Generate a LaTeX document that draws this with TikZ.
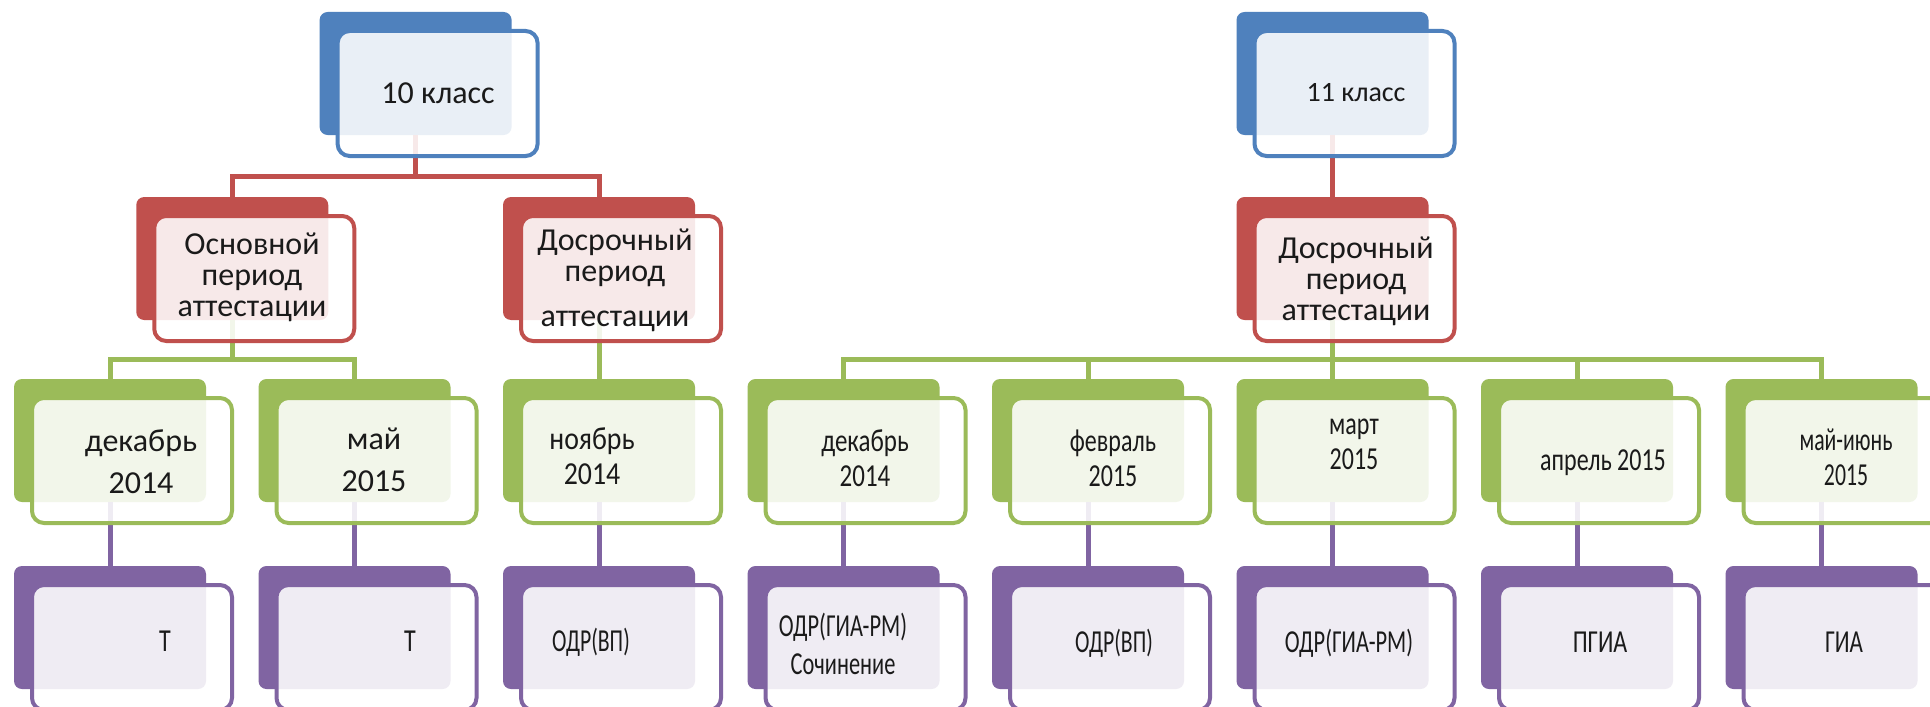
\documentclass[tikz,border=0pt]{standalone}
\usepackage{fontspec}
\setmainfont{Carlito}
\usetikzlibrary{calc}
\definecolor{cblue}{HTML}{4F81BD}
\definecolor{cred}{HTML}{C0504D}
\definecolor{cgreen}{HTML}{9BBB59}
\definecolor{cpurple}{HTML}{8064A2}
\definecolor{ctext}{HTML}{1A1A1A}
\newcommand\condtxt[2]{\scalebox{#1}[1]{\begin{tabular}{@{}c@{}}#2\end{tabular}}}
\begin{document}
\begin{tikzpicture}[x=0.5pt,y=-0.5pt,
  backbox/.style={draw=none, fill=#1, rounded corners=4pt, minimum width=96pt, minimum height=61.5pt, anchor=north west, inner sep=0pt, outer sep=0pt},
  frontbox/.style={draw=#1, line width=2pt, fill=white, fill opacity=0.88, rounded corners=6pt, minimum width=100pt, minimum height=62.5pt, anchor=north west, inner sep=0pt, outer sep=0pt},
  conn/.style={draw=#1, line width=2.5pt},
  lbl/.style={font=\fontsize{16}{15.5}\selectfont, align=center, text=ctext, inner sep=0pt},
  lblthree/.style={font=\fontsize{16}{17.5}\selectfont, align=center, text=ctext, inner sep=0pt},
]
\useasboundingbox (0,0) rectangle (1930,706);
\clip (0,0) rectangle (1930,706);
\fill[white] (0,0) rectangle (1930,706);

% back boxes
\foreach \n/\cx/\yt/\col in {ten/415.6/12/cblue, eleven/1332.5/12/cblue,
  osn/232.25/197/cred, dos/599/197/cred, dosb/1332.5/197/cred,
  g0/110/379/cgreen, g1/354.5/379/cgreen, g2/599/379/cgreen, g3/843.5/379/cgreen,
  g4/1088/379/cgreen, g5/1332.5/379/cgreen, g6/1577/379/cgreen, g7/1821.5/379/cgreen,
  p0/110/566/cpurple, p1/354.5/566/cpurple, p2/599/566/cpurple, p3/843.5/566/cpurple,
  p4/1088/566/cpurple, p5/1332.5/566/cpurple, p6/1577/566/cpurple, p7/1821.5/566/cpurple}
  {\node[backbox=\col] (b\n) at (\cx-96,\yt) {};}

% connectors
\coordinate (busR) at (415.6,176);
\draw[conn=cred] (bten.south) -- (busR);
\draw[conn=cred] (bosn.north) |- (busR) -| (bdos.north);
\draw[conn=cred] (beleven.south) -- (bdosb.north);

\coordinate (busGa) at (232.25,359);
\draw[conn=cgreen] (bosn.south) -- (busGa);
\draw[conn=cgreen] (bg0.north) |- (busGa) -| (bg1.north);
\draw[conn=cgreen] (bdos.south) -- (bg2.north);
\coordinate (busGb) at (1332.5,359);
\draw[conn=cgreen] (bdosb.south) -- (busGb);
\draw[conn=cgreen] (bg3.north) |- (busGb) -| (bg7.north);
\foreach \i in {4,5,6} {\draw[conn=cgreen] (bg\i.north) -- (bg\i.north |- busGb);}

\foreach \i in {0,...,7} {\draw[conn=cpurple] (bg\i.south) -- (bp\i.north);}

% front boxes
\foreach \n/\col in {ten/cblue, eleven/cblue, osn/cred, dos/cred, dosb/cred,
  g0/cgreen, g1/cgreen, g2/cgreen, g3/cgreen, g4/cgreen, g5/cgreen, g6/cgreen, g7/cgreen,
  p0/cpurple, p1/cpurple, p2/cpurple, p3/cpurple, p4/cpurple, p5/cpurple, p6/cpurple, p7/cpurple}
  {\node[frontbox=\col] (f\n) at ($(b\n.north west)+(18,19)$) {};}

% texts
\node[lbl, font=\fontsize{16}{16}\selectfont] (tten) at (438,93) {10 класс};
\node[lbl, font=\fontsize{14}{14}\selectfont] (televen) at (1356,93) {11 класс};
\node[lbl] (tosn) at (252,277) {Основной\\период\\аттестации};
\node[lbl] (tdos) at (615,280) {Досрочный\\период\\[7pt]аттестации};
\node[lbl] (tdosb) at (1356,281) {Досрочный\\период\\аттестации};

\node[lbl, font=\fontsize{16}{21}\selectfont] (tg0) at (141,462) {декабрь\\2014};
\node[lbl, font=\fontsize{16}{21}\selectfont] (tg1) at (374,460) {май\\2015};
\node[lblthree] (tg2) at (592,460) {\condtxt{0.87}{ноябрь\\2014}};
\node[lblthree] (tg3) at (865,461.5) {\condtxt{0.78}{декабрь\\2014}};
\node[lblthree] (tg4) at (1113,461.5) {\condtxt{0.75}{февраль\\2015}};
\node[lblthree] (tg5) at (1354,445) {\condtxt{0.75}{март\\2015}};
\node[lblthree] (tg6) at (1603,463) {\condtxt{0.75}{апрель 2015}};
\node[lblthree] (tg7) at (1846,460.5) {\condtxt{0.68}{май-июнь\\2015}};

\node[lblthree] (tp0) at (165,644) {\condtxt{0.75}{Т}};
\node[lblthree] (tp1) at (410,644) {\condtxt{0.75}{Т}};
\node[lblthree] (tp2) at (591,644) {\condtxt{0.68}{ОДР(ВП)}};
\node[lblthree, font=\fontsize{16}{19}\selectfont] (tp3) at (843,648) {\condtxt{0.7}{ОДР(ГИА-РМ)\\Сочинение}};
\node[lblthree] (tp4) at (1114,645) {\condtxt{0.68}{ОДР(ВП)}};
\node[lblthree] (tp5) at (1349,645) {\condtxt{0.7}{ОДР(ГИА-РМ)}};
\node[lblthree] (tp6) at (1600,645) {\condtxt{0.75}{ПГИА}};
\node[lblthree] (tp7) at (1844,645) {\condtxt{0.72}{ГИА}};
\end{tikzpicture}
\end{document}
